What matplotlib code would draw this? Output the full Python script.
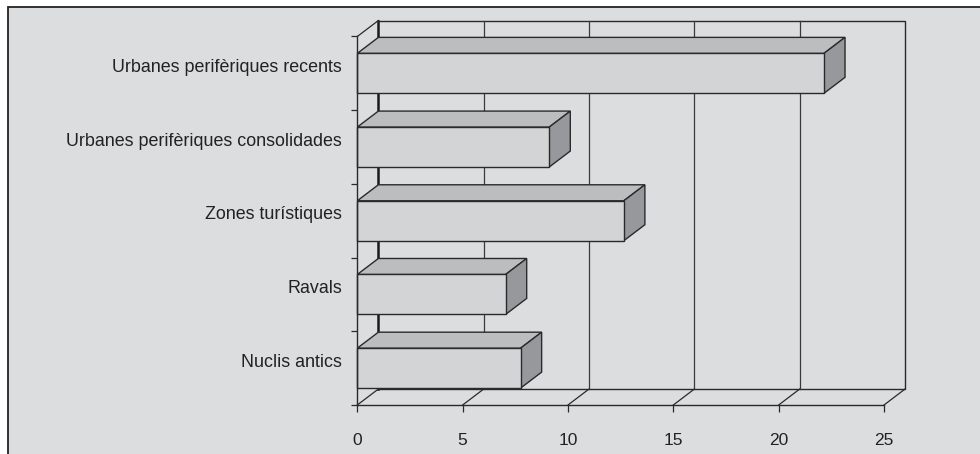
import matplotlib
matplotlib.use("Agg")
import matplotlib.pyplot as plt
from matplotlib.patches import Polygon, Rectangle

categories = ["Nuclis antics", "Ravals", "Zones turístiques",
              "Urbanes perifèriques consolidades", "Urbanes perifèriques recents"]
values = [7.75, 7.04, 12.65, 9.11, 22.15]
xticks = [0, 5, 10, 15, 20, 25]

W, H = 980, 454
fig = plt.figure(figsize=(W / 100, H / 100), dpi=100, facecolor="white")

# outer panel
bg = "#dcdddf"
fig.patches.append(Rectangle((7.5 / W, -0.1), 1.2, (H - 7.5) / H + 0.1,
                             transform=fig.transFigure, facecolor=bg,
                             edgecolor="#222222", linewidth=1.3, zorder=-10))

ax = fig.add_axes([357.3 / W, 49 / H, 526.7 / W, 368.5 / H])
ax.set_zorder(5)
ax.set_facecolor("none")
ax.set_xlim(0, 25)
ax.set_ylim(0, len(categories))

dx = 1.0      # depth offset in value units
dy = 0.217    # depth offset in category units
edge = "#2a2a2a"
n = len(categories)
xmax = xticks[-1]

# back wall
ax.plot([dx, dx], [dy, n + dy], color="#1a1a1a", lw=1.8, clip_on=False, zorder=1)
ax.plot([dx, xmax + dx, xmax + dx, dx], [n + dy, n + dy, dy, dy],
        color=edge, lw=1.0, clip_on=False, zorder=1)
for t in xticks[1:-1]:
    ax.plot([t + dx, t + dx], [dy, n + dy], color="#3a3a3a", lw=0.9,
            clip_on=False, zorder=1)
# floor diagonals
for t in xticks:
    ax.plot([t, t + dx], [0, dy], color=edge, lw=0.9, clip_on=False, zorder=1)
# left wall top diagonal
ax.plot([0, dx], [n, n + dy], color=edge, lw=0.9, clip_on=False, zorder=1)

# bars
h = 0.542
front_c, top_c, side_c = "#d3d4d6", "#bcbdbf", "#97989b"
for i, v in enumerate(values):
    y0 = i + 0.5 - h / 2
    y1 = i + 0.5 + h / 2
    ax.add_patch(Polygon([(0, y1), (v, y1), (v + dx, y1 + dy), (dx, y1 + dy)],
                         closed=True, facecolor=top_c, edgecolor=edge, lw=1.0,
                         clip_on=False, zorder=2))
    ax.add_patch(Polygon([(v, y0), (v, y1), (v + dx, y1 + dy), (v + dx, y0 + dy)],
                         closed=True, facecolor=side_c, edgecolor=edge, lw=1.0,
                         clip_on=False, zorder=2))
    ax.add_patch(Rectangle((0, y0), v, h, facecolor=front_c, edgecolor=edge,
                           lw=1.0, clip_on=False, zorder=3))

for s in ["top", "right"]:
    ax.spines[s].set_visible(False)
for s in ["left", "bottom"]:
    ax.spines[s].set_color(edge)
    ax.spines[s].set_linewidth(1.0)
    ax.spines[s].set_zorder(4)

font = "Liberation Sans"
ax.set_xticks(xticks)
ax.set_xticklabels([str(t) for t in xticks], fontsize=12.5, family=font, color="#222222")
ax.tick_params(axis="x", length=5, width=0.9, color=edge, pad=15)

ax.set_yticks([i + 0.5 + dy / 2 for i in range(n)])
ax.set_yticklabels(categories, fontsize=12.9, family=font, color="#222222")
ax.set_yticks(list(range(n + 1)), minor=True)
ax.tick_params(axis="y", which="major", length=0, pad=11)
ax.tick_params(axis="y", which="minor", length=4.5, width=0.9, color=edge)

fig.savefig("out.png", dpi=100, facecolor="white")
